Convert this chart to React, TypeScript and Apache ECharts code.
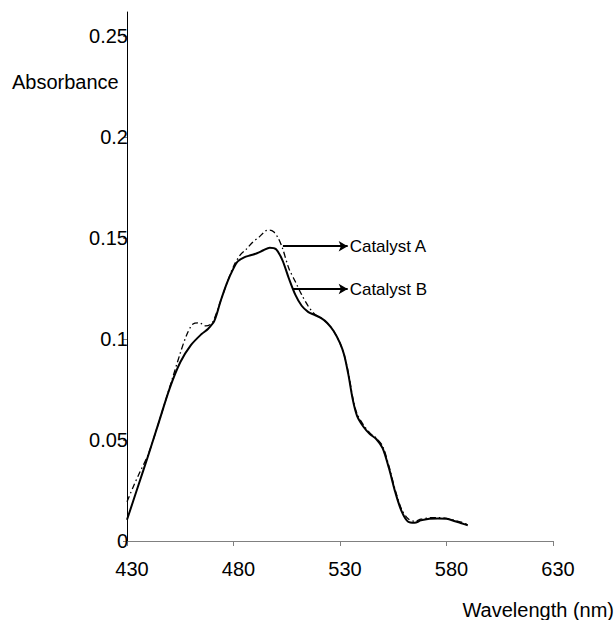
import React, { useEffect, useRef } from "react";
import * as echarts from "echarts";

const wavelengthB = [430, 435, 440, 445, 450, 455, 460, 465, 468, 471, 474, 477, 480, 482, 485, 488, 491, 494, 497, 500, 503, 506, 509, 512, 515, 518, 521, 524, 527, 530, 532, 534, 536, 538, 541, 544, 547, 550, 553, 556, 559, 562, 565, 568, 572, 576, 580, 584, 587, 590];
const catalystB = [0.0105, 0.0265, 0.0425, 0.059, 0.0755, 0.0885, 0.097, 0.1025, 0.105, 0.109, 0.119, 0.128, 0.135, 0.1385, 0.1405, 0.1415, 0.1425, 0.144, 0.1453, 0.1445, 0.139, 0.130, 0.122, 0.1165, 0.1135, 0.112, 0.1105, 0.108, 0.104, 0.098, 0.092, 0.082, 0.070, 0.062, 0.0566, 0.053, 0.0505, 0.046, 0.036, 0.024, 0.0145, 0.0095, 0.009, 0.0102, 0.011, 0.0112, 0.011, 0.0098, 0.0088, 0.0078];

const wavelengthA = [430, 433, 436, 440, 445, 450, 455, 458, 461, 464, 467, 470, 474, 477, 480, 483, 486, 489, 492, 495, 497, 499, 501, 503, 506, 509, 512, 515, 518, 521, 524, 527, 530, 532, 534, 536, 538, 541, 544, 547, 550, 553, 556, 559, 562, 565, 568, 572, 576, 580, 584, 587, 590];
const catalystA = [0.0195, 0.027, 0.034, 0.043, 0.059, 0.076, 0.093, 0.102, 0.1075, 0.108, 0.1065, 0.108, 0.119, 0.128, 0.136, 0.1415, 0.1445, 0.148, 0.1505, 0.1535, 0.154, 0.153, 0.150, 0.145, 0.135, 0.1285, 0.122, 0.1165, 0.1125, 0.1105, 0.108, 0.104, 0.098, 0.092, 0.083, 0.071, 0.063, 0.0575, 0.0535, 0.051, 0.047, 0.037, 0.025, 0.0155, 0.011, 0.0098, 0.0108, 0.0115, 0.0116, 0.0112, 0.0102, 0.0093, 0.0082];

const yTicks = [0, 0.05, 0.1, 0.15, 0.2, 0.25];
const yLabels = ["0", "0.05", "0.1", "0.15", "0.2", "0.25"];

// annotation arrows: [label, xStart, xEnd, y]
const arrows: [string, number, number, number][] = [
  ["Catalyst A", 503.2, 533.6, 0.146],
  ["Catalyst B", 507.9, 533.6, 0.1248],
];

const FONT = "'Liberation Sans', Arial, sans-serif";

export default function App() {
  const ref = useRef<HTMLDivElement>(null);
  useEffect(() => {
    if (!ref.current) return;
    const chart = echarts.init(ref.current, undefined, { renderer: "svg" });
    chart.setOption({
      animation: false,
      backgroundColor: "#ffffff",
      grid: { left: 127, right: 62, top: 12, bottom: 79, containLabel: false },
      xAxis: {
        type: "value",
        min: 430,
        max: 630,
        interval: 50,
        axisLine: { show: true, lineStyle: { color: "#808080", width: 1 } },
        axisTick: { show: true, inside: false, length: 5, lineStyle: { color: "#808080" } },
        splitLine: { show: false },
        axisLabel: {
          color: "#000",
          fontFamily: FONT,
          fontSize: 20,
          margin: 18,
          padding: [0, 0, 0, 10],
        },
      },
      yAxis: {
        type: "value",
        min: 0,
        max: 0.262,
        axisLine: { show: true, onZero: false, lineStyle: { color: "#000", width: 1 } },
        axisTick: {
          show: true,
          length: 4,
          lineStyle: { color: "#808080" },
          customValues: yTicks,
        },
        splitLine: { show: false },
        axisLabel: {
          color: "#000",
          fontFamily: FONT,
          fontSize: 20,
          margin: -1,
          customValues: yTicks,
          formatter: (v: number) => {
            const i = yTicks.findIndex((t) => Math.abs(t - v) < 1e-9);
            return i >= 0 ? yLabels[i] : "";
          },
        },
      },
      graphic: [
        {
          type: "text",
          left: 12,
          top: 72,
          style: { text: "Absorbance", fill: "#000", font: `20px ${FONT}` },
        },
        {
          type: "text",
          right: 1,
          top: 600,
          style: { text: "Wavelength (nm)", fill: "#000", font: `20px ${FONT}` },
        },
      ],
      series: [
        {
          name: "Catalyst A",
          type: "line",
          data: wavelengthA.map((x, i) => [x, catalystA[i]]),
          showSymbol: false,
          smooth: 0.3,
          lineStyle: { color: "#000", width: 1.3, type: [6, 3, 1.5, 3] },
          z: 2,
        },
        {
          name: "Catalyst B",
          type: "line",
          data: wavelengthB.map((x, i) => [x, catalystB[i]]),
          showSymbol: false,
          smooth: 0.3,
          lineStyle: { color: "#000", width: 2 },
          z: 3,
          markLine: {
            silent: true,
            animation: false,
            symbol: ["none", "arrow"],
            symbolSize: [8, 9],
            lineStyle: { color: "#000", width: 2, type: "solid" },
            label: {
              show: true,
              position: "end",
              distance: 2,
              color: "#000",
              fontFamily: FONT,
              fontSize: 17,
              formatter: (p: any) => p.name,
            },
            data: arrows.map(([name, x0, x1, y]) => [
              { name, coord: [x0, y] },
              { coord: [x1, y] },
            ]),
          },
        },
      ],
    });
    return () => chart.dispose();
  }, []);
  return (
    <div
      ref={ref}
      style={{ position: "absolute", left: 0, top: 0, width: 615, height: 620 }}
    />
  );
}
